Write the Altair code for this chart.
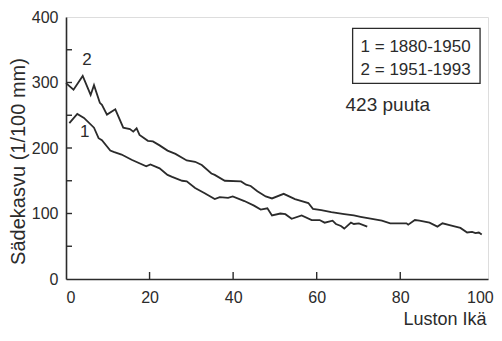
import altair as alt
import pandas as pd

# ---- data ----
age_1 = [0.8, 2.7, 4.3, 6.7, 7.8, 8.6, 10.6, 11.4, 13.3, 15.7, 19.2, 20.2, 22.4, 24.3,
         25.4, 27.8, 28.9, 30.9, 33.2, 35.6, 36.8, 38.8, 39.9, 42.7, 45.0, 46.6, 48.2,
         49.3, 51.3, 52.5, 54.0, 56.4, 58.8, 60.7, 61.9, 63.8, 64.6, 65.8, 66.6, 68.2,
         68.9, 70.1, 72.1]
val_1 = [238, 252, 246, 231, 215, 212, 196, 194, 190, 182, 172, 175, 169, 159,
         156, 150, 149, 139, 131, 122, 125, 124, 126, 119, 112, 106, 108,
         97, 100, 99, 92, 97, 90, 90, 86, 89, 84, 81, 77, 86,
         84, 85, 80]

age_2 = [0.0, 1.8, 4.0, 5.9, 6.7, 8.1, 8.6, 9.8, 11.8, 13.7, 15.3, 16.1, 16.9, 17.6,
         19.6, 20.8, 22.4, 24.3, 26.2, 28.9, 30.9, 32.5, 34.8, 35.6, 38.0, 41.9, 43.1,
         44.2, 45.8, 47.8, 49.3, 52.1, 54.8, 58.0, 59.1, 61.1, 63.5, 66.6, 68.9, 70.5,
         72.9, 75.6, 77.6, 81.5, 81.9, 83.5, 84.6, 87.0, 88.9, 90.1, 92.5, 94.4, 96.0,
         97.2, 98.0, 98.8, 99.5]
val_2 = [299, 289, 310, 281, 296, 269, 266, 251, 259, 231, 229, 225, 230, 220,
         211, 210, 204, 196, 191, 181, 179, 174, 161, 159, 150, 149, 144,
         142, 134, 126, 123, 130, 122, 116, 107, 105, 102, 99, 97, 95,
         92, 89, 85, 85, 83, 90, 89, 86, 80, 85, 81, 78, 71,
         72, 70, 71, 68]

x_ticks = [0, 20, 40, 60, 80, 100]
y_ticks = [0, 50, 100, 150, 200, 250, 300, 350, 400]
curve_labels = ["1", "2"]
legend_lines = ["1 = 1880-1950", "2 = 1951-1993"]
note_text = "423 puuta"

# ---- annotation anchors (data coordinates) ----
curve_label_age = [4.5, 5.0]
curve_label_val = [224, 334]
legend_text_age = [70.5, 70.5]
legend_text_val = [347, 311.5]
box = dict(x=68.6, x2=99.1, y=382.7, y2=298.8)
note_pos = dict(x=66.9, y=257)

FONT = "Liberation Sans"
INK = "#2b2b2b"
W, H = 422, 262

lines_df = pd.DataFrame(
    {"age": age_1 + age_2,
     "val": val_1 + val_2,
     "series": ["1"] * len(age_1) + ["2"] * len(age_2)}
)

xs = alt.Scale(domain=[0, 101], nice=False, zero=False)
ys = alt.Scale(domain=[0, 400], nice=False)

x_axis = alt.Axis(values=x_ticks, ticks=False, grid=False, domainColor=INK, domainWidth=1.6,
                  labelFontSize=16, labelFont=FONT, labelColor=INK, labelPadding=10,
                  labelOffset={"condition": {"test": "datum.value === 100", "value": -4}, "value": 0},
                  title="Luston Ikä", titleFont=FONT, titleFontSize=18,
                  titleFontWeight="normal", titleColor=INK, titleX=420, titleY=45,
                  titleAlign="right", titleBaseline="alphabetic")
y_axis = alt.Axis(values=y_ticks, ticks=False, grid=False, domainColor=INK, domainWidth=1.6,
                  labelFontSize=16, labelFont=FONT, labelColor=INK, labelPadding=8,
                  title="Sädekasvu (1/100 mm)", titleFont=FONT, titleFontSize=20,
                  titleFontWeight="normal", titleColor=INK, titleX=-48, titleY=144,
                  titleAngle=270, titleAlign="center", titleBaseline="middle")

lines = alt.Chart(lines_df).mark_line(color=INK, strokeWidth=1.8).encode(
    x=alt.X("age:Q", scale=xs, axis=x_axis),
    y=alt.Y("val:Q", scale=ys, axis=y_axis),
    detail="series:N",
)

xt = alt.Chart(pd.DataFrame({"t": x_ticks[1:-1]})).mark_rule(color=INK, strokeWidth=1.4).encode(
    x=alt.X("t:Q", scale=xs), y=alt.value(H), y2=alt.value(H - 7))
yt = alt.Chart(pd.DataFrame({"t": y_ticks[1:-1]})).mark_rule(color=INK, strokeWidth=1.4).encode(
    y=alt.Y("t:Q", scale=ys), x=alt.value(0), x2=alt.value(6))

lab_df = pd.DataFrame({"t": curve_labels, "x": curve_label_age, "y": curve_label_val})
labs = alt.Chart(lab_df).mark_text(font=FONT, fontSize=17, color=INK, baseline="middle").encode(
    x=alt.X("x:Q", scale=xs), y=alt.Y("y:Q", scale=ys), text="t:N")

box_df = pd.DataFrame([box])
rect = alt.Chart(box_df).mark_rect(fill="white", stroke=INK, strokeWidth=1.3).encode(
    x=alt.X("x:Q", scale=xs), x2="x2:Q", y=alt.Y("y:Q", scale=ys), y2="y2:Q")

leg_df = pd.DataFrame({"t": legend_lines, "x": legend_text_age, "y": legend_text_val})
leg = alt.Chart(leg_df).mark_text(font=FONT, fontSize=17, color=INK, align="left",
                                  baseline="alphabetic").encode(
    x=alt.X("x:Q", scale=xs), y=alt.Y("y:Q", scale=ys), text="t:N")

note_df = pd.DataFrame({"t": [note_text], "x": [note_pos["x"]], "y": [note_pos["y"]]})
note = alt.Chart(note_df).mark_text(font=FONT, fontSize=19, color=INK, align="left",
                                    baseline="alphabetic").encode(
    x=alt.X("x:Q", scale=xs), y=alt.Y("y:Q", scale=ys), text="t:N")

chart = alt.layer(lines, xt, yt, labs, rect, leg, note).properties(
    width=W, height=H,
    autosize=alt.AutoSizeParams(type="none"),
    padding={"left": 58, "top": 9, "right": 6, "bottom": 49},
).configure_view(stroke=INK, strokeWidth=1.6).configure(background="white")

chart.save("out.html", embed_options={"renderer": "svg", "actions": False})
